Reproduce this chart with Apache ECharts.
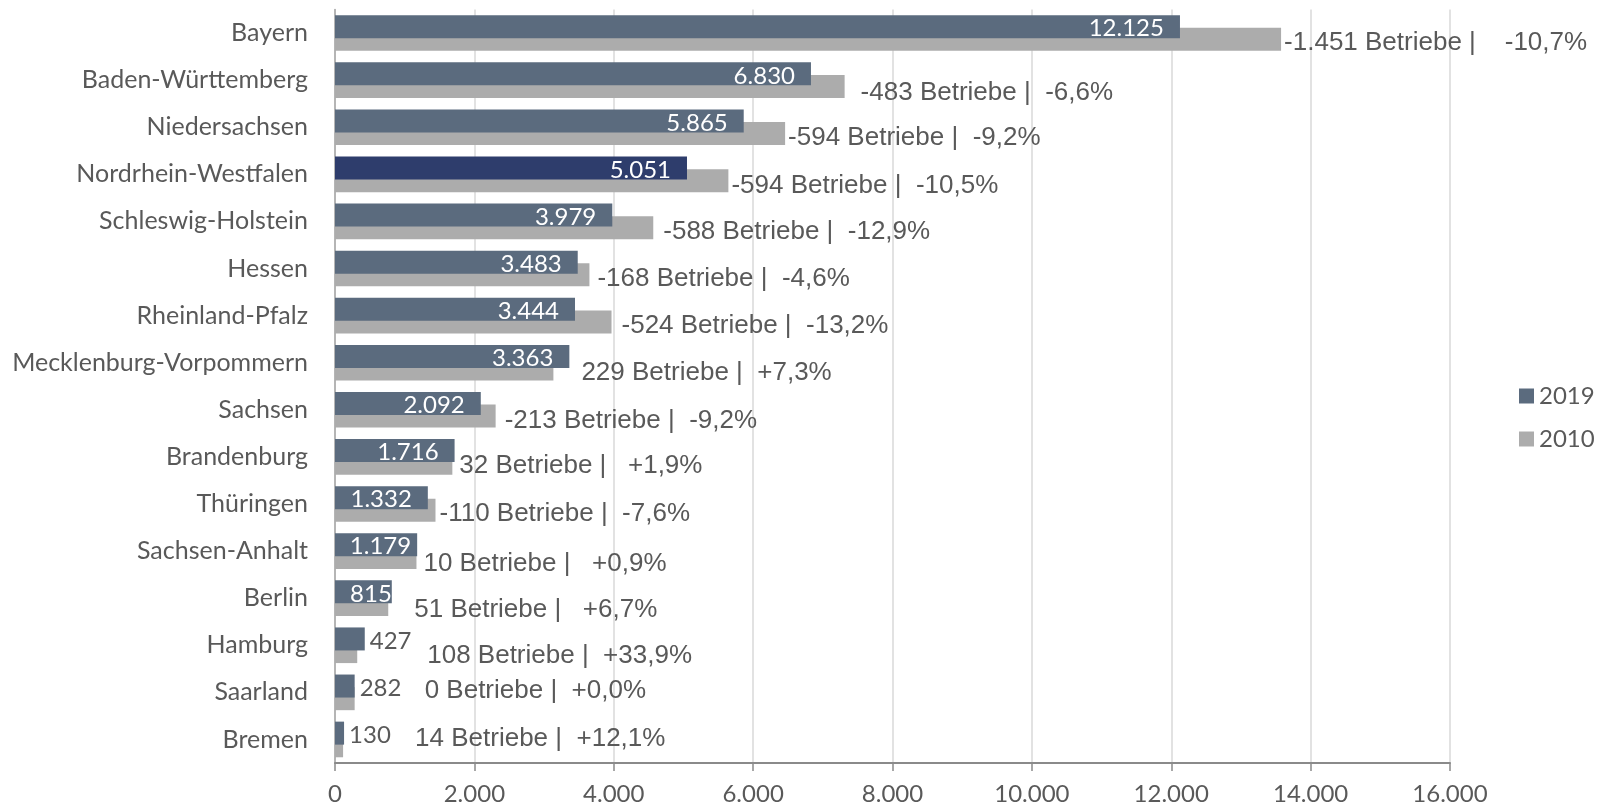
<!DOCTYPE html>
<html>
<head>
<meta charset="utf-8">
<script src="https://cdn.jsdelivr.net/npm/echarts@6/dist/echarts.min.js"></script>
<style>
  html, body { margin: 0; padding: 0; background: #fff; }
  #chart { width: 1612px; height: 809px; }
</style>
</head>
<body>
<div id="chart"></div>
<script>
// Daten
const laender = ['Bayern', 'Baden-Württemberg', 'Niedersachsen', 'Nordrhein-Westfalen', 'Schleswig-Holstein',
  'Hessen', 'Rheinland-Pfalz', 'Mecklenburg-Vorpommern', 'Sachsen', 'Brandenburg', 'Thüringen',
  'Sachsen-Anhalt', 'Berlin', 'Hamburg', 'Saarland', 'Bremen']
const werte2019 = [12125, 6830, 5865, 5051, 3979, 3483, 3444, 3363, 2092, 1716, 1332, 1179, 815, 427, 282, 130]
const werte2010 = [13576, 7313, 6459, 5645, 4567, 3651, 3968, 3134, 2305, 1684, 1442, 1169, 764, 319, 282, 116]
const xTicks = [0, 2000, 4000, 6000, 8000, 10000, 12000, 14000, 16000]

// Feinjustierung der Beschriftungen (px) wie im Original
const diffShiftX = [3, 16, 3, 3, 10, 8, 10, 28, 9, 7, 4, 7, 26, 70, 70, 72]
const diffShiftY = [3, 6, 4, 5, 4, 4, 4, 4, 5, 3, 4, 6, 5, 4, -8, -7]
const diffSpaces = [4, 2, 2, 2, 2, 2, 2, 2, 2, 3, 2, 3, 3, 2, 2, 2]
const valShiftX = { 11: 10, 12: 16 }

const grey = '#595959'
const fmt = (n) => Math.abs(n).toString().replace(/\B(?=(\d{3})+(?!\d))/g, '.')

const chart = echarts.init(document.getElementById('chart'))

const data2019 = werte2019.map((v, i) => {
  const outside = v < 500
  return {
    value: v,
    itemStyle: i === 3 ? { color: '#2e3d6c' } : undefined,
    label: {
      position: outside ? 'right' : 'insideRight',
      distance: outside ? 5 : 16,
      color: outside ? grey : '#fff',
      offset: [valShiftX[i] || 0, 2]
    }
  }
})

const data2010 = werte2010.map((v, i) => {
  const d = werte2019[i] - v
  const p = d / v * 100
  const pct = (p >= 0 ? '+' : '-') + Math.abs(p).toFixed(1).replace('.', ',') + '%'
  const txt = (d < 0 ? '-' : '') + fmt(d) + ' Betriebe |' + ' '.repeat(diffSpaces[i]) + pct
  return {
    value: v,
    label: {
      formatter: txt,
      offset: [diffShiftX[i], diffShiftY[i]]
    }
  }
})

const option = {
  animation: false,
  textStyle: { fontFamily: 'Lato' },
  grid: { left: 335, right: 162, top: 9.5, bottom: 46 },
  legend: {
    orient: 'vertical',
    left: 1514,
    top: 379,
    itemWidth: 15,
    itemHeight: 15,
    itemGap: 19,
    icon: 'rect',
    data: ['2019', '2010'],
    textStyle: { fontFamily: 'Lato', fontSize: 24, color: grey }
  },
  xAxis: {
    type: 'value',
    min: xTicks[0],
    max: xTicks[xTicks.length - 1],
    interval: xTicks[1] - xTicks[0],
    axisLine: { show: true, lineStyle: { color: '#8a8a8a', width: 2 } },
    axisTick: { show: true, length: 8, lineStyle: { color: '#8a8a8a', width: 1.5 } },
    splitLine: { show: true, lineStyle: { color: '#d9d9d9', width: 1.5 } },
    axisLabel: {
      margin: 19,
      fontFamily: 'Lato',
      fontSize: 24,
      color: grey,
      formatter: (v) => fmt(v)
    }
  },
  yAxis: {
    type: 'category',
    inverse: true,
    data: laender,
    axisLine: { show: true, lineStyle: { color: '#a6a6a6', width: 1.5 } },
    axisTick: { show: false },
    axisLabel: { margin: 27, fontFamily: 'Lato', fontSize: 25, color: grey }
  },
  series: [
    {
      name: '2019',
      type: 'bar',
      z: 3,
      barWidth: 23,
      barGap: '-45%',
      itemStyle: { color: '#5b6b7e' },
      label: { show: true, fontFamily: 'Lato', fontSize: 24, formatter: (p) => fmt(p.value) },
      data: data2019
    },
    {
      name: '2010',
      type: 'bar',
      z: 2,
      barWidth: 23,
      barGap: '-45%',
      itemStyle: { color: '#acacac' },
      label: {
        show: true,
        position: 'right',
        distance: 0,
        fontFamily: 'Liberation Sans',
        fontSize: 26,
        color: grey
      },
      data: data2010
    }
  ]
}

chart.setOption(option)
</script>
</body>
</html>
